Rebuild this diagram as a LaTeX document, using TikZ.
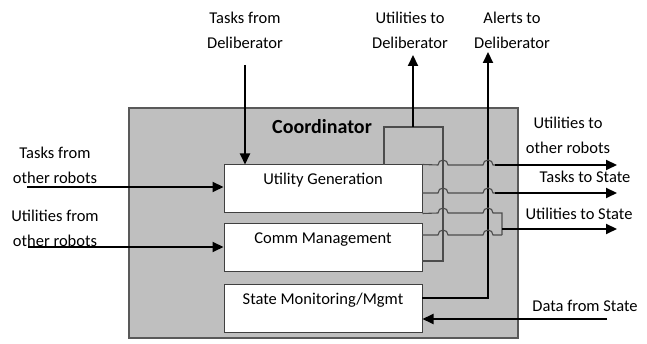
\documentclass[tikz,border=0pt]{standalone}
\usepackage{fontspec}
\setmainfont{Carlito}
\usetikzlibrary{arrows.meta}

\begin{document}
\begin{tikzpicture}[x=1pt,y=1pt,
    every node/.style={font=\fontsize{16.5}{25}\selectfont},
    box/.style={draw=black!75,fill=white,line width=1pt,minimum width=198pt,
      minimum height=48pt,text height=16pt,text depth=24pt,inner ysep=4pt},
    wire/.style={draw=black!70,line width=1.1pt},
    arrow/.style={line width=2pt,-{Triangle[length=11pt,width=10pt]}},
    lbl/.style={align=center,inner sep=0pt}]
  \useasboundingbox (0,0) rectangle (647,344);
  % coordinator block
  \node[draw=black!65,fill=black!25,line width=1.2pt,minimum width=389pt,
    minimum height=230pt] (coord) at (323.5,121) {};
  \node[anchor=base,font=\fontsize{20}{22}\selectfont\bfseries] (coordname)
    at (322,210) {Coordinator};
  \node[box] (utilgen) at (323,155) {Utility Generation};
  \node[box] (commmgmt) at (323,96) {Comm Management};
  \node[box] (statemon) at (323,35.5) {State Monitoring/Mgmt};

  % labels
  \node[lbl] (tasksdelib) at (245,313.5) {Tasks from\\Deliberator};
  \node[lbl] (utildelib) at (410,313.5) {Utilities to\\Deliberator};
  \node[lbl] (alertsdelib) at (512,313.5) {Alerts to\\Deliberator};
  \node[lbl] (tasksrobots) at (55,178.5) {Tasks from\\other robots};
  \node[lbl] (utilrobots) at (55,115.5) {Utilities from\\other robots};
  \node[lbl] (utiltorobots) at (568,208.5) {Utilities to\\other robots};
  \node[anchor=base] (taskstate) at (585,161) {Tasks to State};
  \node[anchor=base] (utilstate) at (579,124) {Utilities to State};
  \node[anchor=base] (datastate) at (585,32) {Data from State};

  \coordinate (tdtop) at (245,279);
  \coordinate (trstart) at (27,157);
  \coordinate (urstart) at (28,97);
  \coordinate (dsstart) at (607,25);
  \coordinate (udmid) at (413,217);
  \coordinate (udtop) at (413,289);
  \coordinate (cmout) at (422,83);
  \coordinate (smout) at (422,46);
  \coordinate (altop) at (488,292);
  \coordinate (ugout) at (422,151);
  \coordinate (cmout2) at (422,109);
  \coordinate (uostart) at (495,179);
  \coordinate (tsstart) at (495,151);
  \coordinate (usstart) at (502,115);
  \coordinate (uoend) at (617,179);
  \coordinate (tsend) at (617,151);
  \coordinate (usend) at (617,115);

  % inputs
  \draw[arrow] (tdtop) -- (tdtop |- utilgen.north);
  \draw[arrow] (trstart) -- (utilgen.west |- trstart);
  \draw[arrow] (urstart) -- (commmgmt.west |- urstart);
  \draw[arrow] (dsstart) -- (statemon.east |- dsstart);

  % to deliberator
  \draw[wire] (cmout) -- (443,83) -- (443,217) -- (384,217) -- (384,179);
  \draw[arrow] (udmid) -- (udtop);
  \draw[arrow] (smout) -- (smout -| altop) -- (altop);

  % outputs with hops
  \draw[wire] (utilgen.north east) -- (438,179) arc[start angle=180,end angle=0,radius=5pt]
    -- (483,179) arc[start angle=180,end angle=0,radius=5pt] -- (uostart);
  \draw[wire] (ugout) -- (438,151) arc[start angle=180,end angle=0,radius=5pt]
    -- (483,151) arc[start angle=180,end angle=0,radius=5pt] -- (tsstart);
  \draw[wire] (utilgen.south east) -- (438,131) arc[start angle=180,end angle=0,radius=5pt]
    -- (483,131) arc[start angle=180,end angle=0,radius=5pt] -- (502,131) -- (502,109);
  \draw[wire] (cmout2) -- (438,109) arc[start angle=180,end angle=0,radius=5pt]
    -- (483,109) arc[start angle=180,end angle=0,radius=5pt] -- (502,109);
  \draw[arrow] (uostart) -- (uoend);
  \draw[arrow] (tsstart) -- (tsend);
  \draw[arrow] (usstart) -- (usend);
\end{tikzpicture}
\end{document}
